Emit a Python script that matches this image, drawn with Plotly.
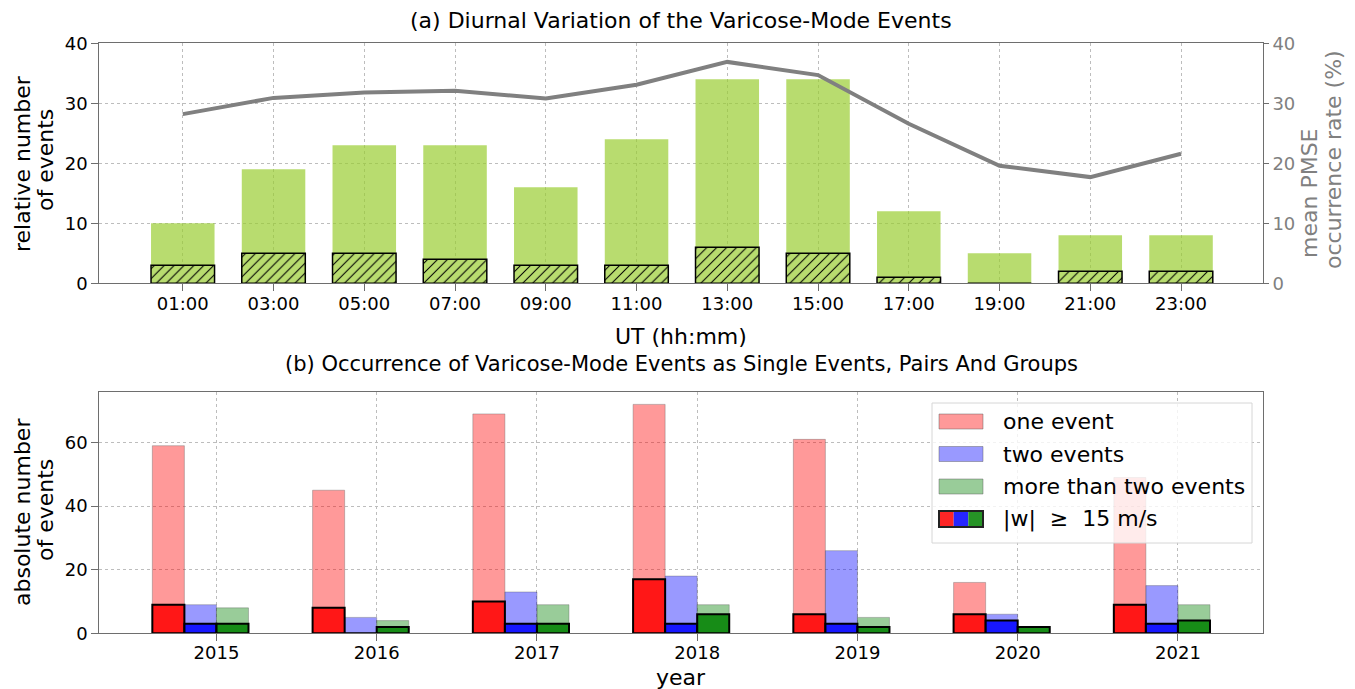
import plotly.graph_objects as go

# ---------------- data ----------------
ut_labels = ["01:00", "03:00", "05:00", "07:00", "09:00", "11:00",
             "13:00", "15:00", "17:00", "19:00", "21:00", "23:00"]
events_all = [10, 19, 23, 23, 16, 24, 34, 34, 12, 5, 8, 8]
events_strong = [3, 5, 5, 4, 3, 3, 6, 5, 1, 0, 2, 2]
pmse_rate = [28.2, 30.9, 31.8, 32.1, 30.8, 33.1, 36.9, 34.7, 26.6, 19.6, 17.7, 21.6]

years = [2015, 2016, 2017, 2018, 2019, 2020, 2021]
one_event = [59, 45, 69, 72, 61, 16, 49]
two_events = [9, 5, 13, 18, 26, 6, 15]
more_events = [8, 4, 9, 9, 5, 2, 9]
one_strong = [9, 8, 10, 17, 6, 6, 9]
two_strong = [3, 0, 3, 3, 3, 4, 3]
more_strong = [3, 2, 3, 6, 2, 2, 4]

# ---------------- style ----------------
OFF = 8                      # page body margin of the html page
W, H = 1355 - OFF, 689 - OFF
FONT = "DejaVu Sans"
GRID = "#bdbdbd"
SPINE = "#6e6e6e"
GREEN_A = "rgba(154,205,50,0.7)"
GREEN_S = "rgb(184,220,111)"

def px(x):
    return (x - OFF) / W

def py(y):
    return 1 - (y - OFF) / H

fig = go.Figure()

# ---- panel (a) ----
fig.add_trace(go.Bar(x=ut_labels, y=events_all, width=0.7,
                     marker=dict(color=GREEN_A, line=dict(width=0)),
                     xaxis="x", yaxis="y", showlegend=False))
fig.add_trace(go.Bar(x=ut_labels, y=events_strong, width=0.7,
                     marker=dict(color=GREEN_S, line=dict(color="black", width=1.5),
                                 pattern=dict(shape="/", fgcolor="black", bgcolor=GREEN_S,
                                              size=7, solidity=0.15, fillmode="replace")),
                     xaxis="x", yaxis="y", showlegend=False))
fig.add_trace(go.Scatter(x=ut_labels, y=pmse_rate, mode="lines",
                         line=dict(color="gray", width=4),
                         xaxis="x", yaxis="y2", showlegend=False))

# ---- panel (b) ----
light = [("rgba(255,0,0,0.4)", one_event, -0.4),
         ("rgba(0,0,255,0.4)", two_events, -0.2),
         ("rgba(0,128,0,0.4)", more_events, 0.0)]
dark = [("rgba(255,0,0,0.85)", one_strong, -0.4),
        ("rgba(0,0,255,0.85)", two_strong, -0.2),
        ("rgba(0,128,0,0.85)", more_strong, 0.0)]
for col, vals, off in light:
    fig.add_trace(go.Bar(x=years, y=vals, width=0.2, offset=off,
                         marker=dict(color=col, line=dict(color="rgba(90,90,90,0.35)", width=1)),
                         xaxis="x2", yaxis="y3", showlegend=False))
for col, vals, off in dark:
    fig.add_trace(go.Bar(x=years, y=vals, width=0.2, offset=off,
                         marker=dict(color=col, line=dict(color="black", width=2)),
                         xaxis="x2", yaxis="y3", showlegend=False))

axis_common = dict(showline=True, linecolor=SPINE, linewidth=1.2, ticks="outside",
                   ticklen=7, tickcolor=SPINE, tickwidth=1.2, zeroline=False,
                   automargin=False,
                   tickfont=dict(family=FONT, size=18, color="black"))
grid = dict(showgrid=True, gridcolor=GRID, griddash="dot", gridwidth=1)

dom_x = [px(99.3), px(1262.7)]
fig.update_layout(
    width=W, height=H, margin=dict(l=0, r=0, t=0, b=0, autoexpand=False),
    paper_bgcolor="white", plot_bgcolor="white", barmode="overlay",
    font=dict(family=FONT, color="black"),
    xaxis=dict(domain=dom_x, anchor="y", type="category", range=[-0.92, 11.9],
               mirror=True, ticklabelstandoff=-3, **grid, **axis_common),
    yaxis=dict(domain=[py(283.3), py(43.3)], anchor="x", range=[0, 40], dtick=10,
               **grid, **axis_common),
    yaxis2=dict(overlaying="y", anchor="x", side="right", range=[0, 40], dtick=10,
                showgrid=False, showline=True, linecolor=SPINE, linewidth=1.2,
                ticks="outside", ticklen=5, tickcolor=SPINE, tickwidth=1.2, zeroline=False,
                automargin=False,
                tickfont=dict(family=FONT, size=18, color="gray")),
    xaxis2=dict(domain=dom_x, anchor="y3", range=[2014.269, 2021.529],
                tickvals=years, ticktext=[str(y) for y in years],
                mirror=True, ticklabelstandoff=-4, **grid, **axis_common),
    yaxis3=dict(domain=[py(633.3), py(392.3)], anchor="x2", range=[0, 75.8],
                tickvals=[0, 20, 40, 60], mirror=True, **grid, **axis_common),
)

ann = []
def text(t, x, y, size=22, color="black", angle=0, xanchor="center"):
    ann.append(dict(text=t, x=px(x), y=py(y), xref="paper", yref="paper",
                    showarrow=False, textangle=angle, xanchor=xanchor, yanchor="middle",
                    font=dict(family=FONT, size=size, color=color)))

text("(a) Diurnal Variation of the Varicose-Mode Events", 681, 20)
text("UT (hh:mm)", 681, 336)
text("(b) Occurrence of Varicose-Mode Events as Single Events, Pairs And Groups", 681, 364, size=21)
text("year", 681, 677)
text("relative number", 22, 164, angle=-90)
text("of events", 46, 160, angle=-90)
text("absolute number", 22, 512, angle=-90)
text("of events", 46, 510, angle=-90)
text("mean PMSE", 1309, 193, color="gray", angle=-90)
text("occurrence rate (%)", 1334, 160, color="gray", angle=-90)

# ---- manual legend for panel (b) ----
shapes = [dict(type="rect", xref="paper", yref="paper", x0=px(932), x1=px(1252),
               y0=py(543), y1=py(403), fillcolor="rgba(255,255,255,0.8)",
               line=dict(color="#d6d6d6", width=1), layer="above")]
leg_rows = [("one event", "rgb(255,153,153)", 421.5),
            ("two events", "rgb(153,153,255)", 454),
            ("more than two events", "rgb(153,204,153)", 486.5)]
for label, col, yc in leg_rows:
    shapes.append(dict(type="rect", xref="paper", yref="paper", x0=px(939), x1=px(983),
                       y0=py(yc + 7.5), y1=py(yc - 7.5), fillcolor=col,
                       line=dict(color="rgba(90,90,90,0.45)", width=1), layer="above"))
    text(label, 1001, yc, xanchor="left")
yc = 519
for i, col in enumerate(["rgb(255,38,38)", "rgb(38,38,255)", "rgb(38,147,38)"]):
    shapes.append(dict(type="rect", xref="paper", yref="paper",
                       x0=px(939 + i * 44 / 3), x1=px(939 + (i + 1) * 44 / 3),
                       y0=py(yc + 8), y1=py(yc - 8), fillcolor=col,
                       line=dict(width=0), layer="above"))
shapes.append(dict(type="rect", xref="paper", yref="paper", x0=px(939), x1=px(983),
                   y0=py(yc + 8), y1=py(yc - 8), fillcolor="rgba(0,0,0,0)",
                   line=dict(color="#222", width=2), layer="above"))
text("|w|  \u2265  15 m/s", 1001, yc, xanchor="left")

fig.update_layout(annotations=ann, shapes=shapes)
fig.write_html("out.html")
